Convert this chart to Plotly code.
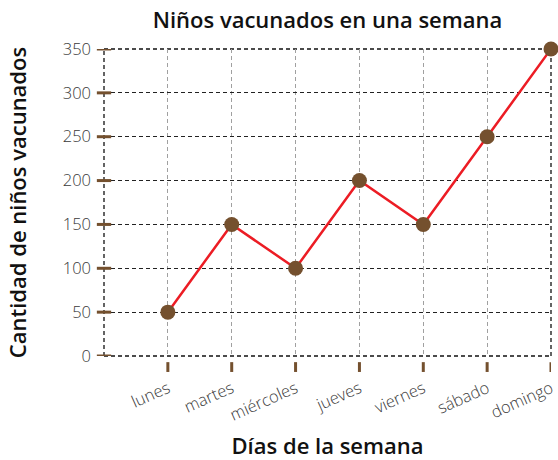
import plotly.graph_objects as go

# Vaccinated children per weekday
days = ["lunes", "martes", "miércoles", "jueves", "viernes", "sábado", "domingo"]
vaccinated = [50, 150, 100, 200, 150, 250, 350]
y_ticks = [0, 50, 100, 150, 200, 250, 300, 350]

BROWN = "#74502e"
RED = "#ec1c24"
FONT = "Open Sans"
DASH = "4px,3px"

fig = go.Figure()
fig.add_trace(go.Scatter(
    x=days,
    y=vaccinated,
    mode="lines+markers",
    line=dict(color=RED, width=2.5),
    marker=dict(color=BROWN, size=15),
    cliponaxis=False,
    hoverinfo="x+y",
))

shapes = []
# dashed frame around the plot area
frame = dict(type="line", line=dict(color="#111111", width=1.3, dash=DASH), layer="below")
shapes.append(dict(frame, xref="paper", yref="paper", x0=0, x1=0, y0=0, y1=1))
shapes.append(dict(frame, xref="paper", yref="paper", x0=1, x1=1, y0=0, y1=1))
shapes.append(dict(frame, xref="paper", yref="paper", x0=0, x1=1, y0=0, y1=0))
shapes.append(dict(frame, xref="paper", yref="paper", x0=0, x1=1, y0=1, y1=1))

# brown tick marks crossing the value axis
for v in y_ticks:
    shapes.append(dict(type="line", xref="paper", yref="y", x0=-0.016, x1=0.016, y0=v, y1=v,
                       line=dict(color=BROWN, width=3), layer="above"))
# brown tick marks hanging below the category axis
for d in days:
    shapes.append(dict(type="line", xref="x", yref="paper", x0=d, x1=d, y0=-0.02, y1=-0.052,
                       line=dict(color=BROWN, width=3), layer="above"))

fig.update_layout(
    width=558,
    height=460,
    margin=dict(l=104, r=7, t=49, b=104, autoexpand=False),
    paper_bgcolor="white",
    plot_bgcolor="white",
    showlegend=False,
    shapes=shapes,
    font=dict(family=FONT, color="#444444"),
    title=dict(
        text="Niños vacunados en una semana",
        x=(104 + 551) / 2 / 558,
        xanchor="center",
        y=0.955,
        yanchor="middle",
        automargin=False,
        font=dict(family=FONT, size=22, weight=600, color="#111111"),
    ),
    xaxis=dict(
        type="category",
        categoryorder="array",
        categoryarray=days,
        range=[-1, 6],
        automargin=False,
        showgrid=True,
        gridcolor="#a0a0a0",
        griddash=DASH,
        gridwidth=1,
        zeroline=False,
        showline=False,
        ticks="",
        tickangle=-24,
        ticklabelstandoff=19,
        tickfont=dict(family=FONT, size=16.5, weight=300, color="#3a3a3a"),
        title=dict(text="Días de la semana", standoff=20,
                   font=dict(family=FONT, size=22, weight=600, color="#111111")),
        fixedrange=True,
    ),
    yaxis=dict(
        range=[0, 350],
        tickvals=y_ticks,
        automargin=False,
        showgrid=True,
        gridcolor="#222222",
        griddash=DASH,
        gridwidth=1,
        zeroline=False,
        showline=False,
        ticks="",
        ticklabelstandoff=12,
        tickfont=dict(family=FONT, size=16.5, weight=300, color="#3a3a3a"),
        title=dict(text="Cantidad de niños vacunados", standoff=30,
                   font=dict(family=FONT, size=22, weight=600, color="#111111")),
        fixedrange=True,
    ),
)

fig.write_html("out.html")
